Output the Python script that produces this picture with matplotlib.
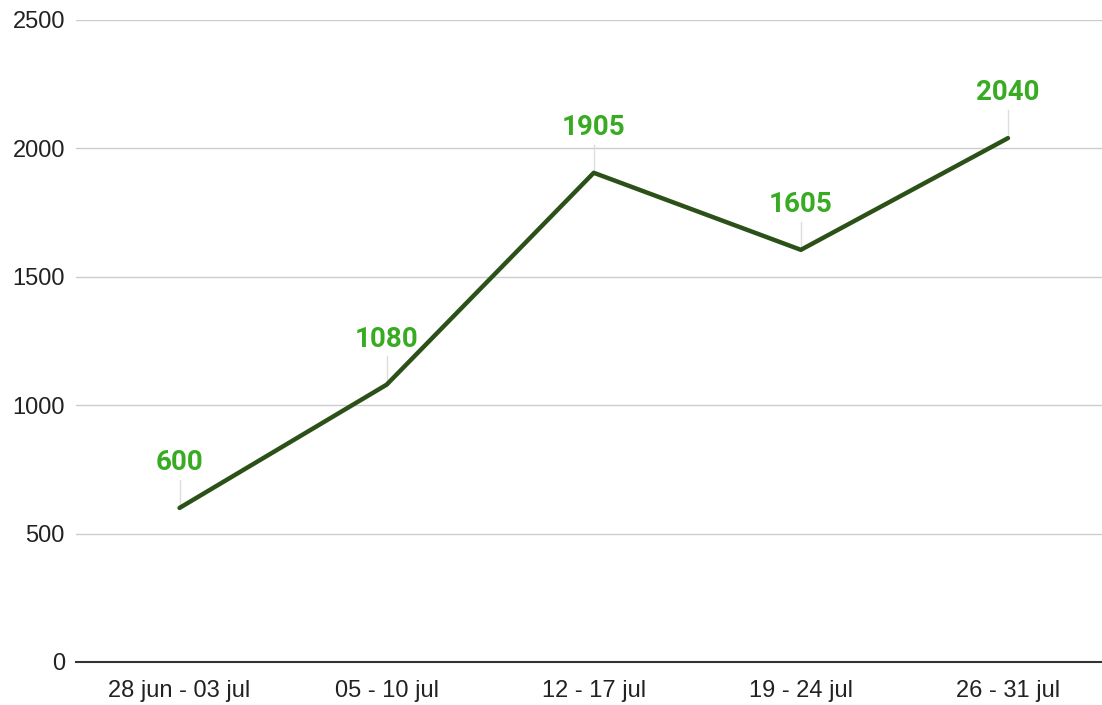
import matplotlib.pyplot as plt

# data
weeks = ['28 jun - 03 jul', '05 - 10 jul', '12 - 17 jul', '19 - 24 jul', '26 - 31 jul']
values = [600, 1080, 1905, 1605, 2040]
y_ticks = [0, 500, 1000, 1500, 2000, 2500]

plt.rcParams['font.family'] = ['Roboto', 'DejaVu Sans']

fig = plt.figure(figsize=(11.02, 7.05), dpi=100)
ax = fig.add_axes([76 / 1102, 1 - 662 / 705, 1 - 76 / 1102, (662 - 20) / 705])

x = list(range(len(weeks)))
ax.plot(x, values, color='#2b5118', linewidth=3.2, solid_capstyle='round', zorder=3)

# value labels with thin leader lines
for xi, v in zip(x, values):
    ax.plot([xi, xi], [v, v + 110], color='#dddddd', linewidth=1, zorder=2)
    ax.annotate(str(v), (xi, v), xytext=(0, 32), textcoords='offset pixels',
                ha='center', va='bottom', fontsize=20, fontweight='bold',
                color='#38ab22')

ax.set_xlim(-0.5, 4.454)
ax.set_ylim(0, 2500)
ax.set_yticks(y_ticks)
ax.set_xticks(x)
ax.set_xticklabels(weeks)
ax.tick_params(axis='both', length=0, labelsize=17, colors='#222222')
for lbl in ax.get_xticklabels() + ax.get_yticklabels():
    lbl.set_family(['Liberation Sans', 'DejaVu Sans'])
ax.tick_params(axis='y', pad=8)
ax.tick_params(axis='x', pad=13)
ax.grid(axis='y', color='#cccccc', linewidth=1)
for s in ['top', 'right', 'left']:
    ax.spines[s].set_visible(False)
ax.spines['bottom'].set_color('#333333')
ax.spines['bottom'].set_linewidth(1.5)
ax.set_axisbelow(True)

fig.savefig('out.png', dpi=100)
